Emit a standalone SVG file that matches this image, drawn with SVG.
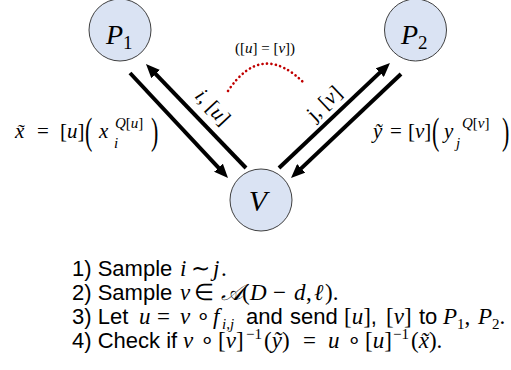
<svg xmlns="http://www.w3.org/2000/svg" width="511" height="370" viewBox="0 0 511 370">
<style>
.node{fill:#dae3f3;stroke:#404040;stroke-width:1}
.conn{stroke:#000;stroke-width:4;fill:none}
.t{font-family:"Liberation Sans",Arial,sans-serif;font-size:22px;fill:#000}
.s{font-family:"Liberation Serif","Times New Roman",serif;fill:#000}
.m{font-family:"Liberation Serif","Times New Roman",serif;font-style:italic;font-size:23px}
.r{font-family:"Liberation Serif","Times New Roman",serif;font-style:normal;font-size:23px}
.sb{font-family:"Liberation Serif","Times New Roman",serif;font-size:15px}
.it{font-style:italic}
</style>
<defs>
<marker id="ah" markerUnits="userSpaceOnUse" markerWidth="14" markerHeight="12" viewBox="0 0 14 12" refX="4" refY="6" orient="auto">
<path d="M0,0 L14,6 L0,12 z" fill="#000"/>
</marker>
</defs>

<g id="connectors">
<line class="conn" x1="130" y1="73" x2="221.2" y2="170.7" marker-end="url(#ah)"/>
<line class="conn" x1="246" y1="168" x2="152.9" y2="71.2" marker-end="url(#ah)"/>
<line class="conn" x1="279" y1="168" x2="382.7" y2="69.9" marker-end="url(#ah)"/>
<line class="conn" x1="401" y1="74" x2="298.3" y2="171.1" marker-end="url(#ah)"/>
<path d="M228,91 Q262,40 305,84" fill="none" stroke="#c00000" stroke-width="2.6" stroke-linecap="round" stroke-dasharray="0.1 4.4"/>
<text class="s" x="265" y="53" font-size="15" text-anchor="middle">([<tspan class="it">u</tspan>] = [<tspan class="it">v</tspan>])</text>
<text class="s" font-size="21" text-anchor="middle" transform="translate(213,107) rotate(47)" x="0" y="7"><tspan class="it">i</tspan>, [<tspan class="it">u</tspan>]</text>
<text class="s" font-size="21" text-anchor="middle" transform="translate(324,103) rotate(-43.4)" x="0" y="7">j, [<tspan class="it">v</tspan>]</text>
</g>

<g id="P1">
<circle class="node" cx="120" cy="30" r="31"/>
<text class="s" x="106" y="44" font-size="28"><tspan class="it">P</tspan><tspan font-size="19" dy="5">1</tspan></text>
</g>
<g id="P2">
<circle class="node" cx="415.5" cy="30" r="31"/>
<text class="s" x="401" y="44" font-size="28"><tspan class="it">P</tspan><tspan font-size="19" dy="5">2</tspan></text>
</g>
<g id="V">
<circle class="node" cx="261" cy="200" r="31"/>
<text class="s it" x="258" y="211" font-size="30" text-anchor="middle">V</text>
</g>

<g id="formula-left">
<text class="s" font-size="21" y="138"><tspan class="it" x="15">x̃</tspan><tspan x="37">=</tspan><tspan x="60">[</tspan><tspan class="it">u</tspan><tspan>]</tspan><tspan class="it" x="99">x</tspan></text>
<text class="s" font-size="22" transform="translate(85,144) scale(1,1.7)">(</text>
<text class="s" font-size="22" transform="translate(151,144) scale(1,1.7)">)</text>
<text class="s it" font-size="15" x="114" y="148">i</text>
<text class="s" font-size="15" x="115" y="128"><tspan class="it">Q</tspan>[<tspan class="it">u</tspan>]</text>
</g>

<g id="formula-right">
<text class="s" font-size="21" y="138"><tspan class="it" x="373">ỹ</tspan><tspan x="390">=</tspan><tspan x="408">[</tspan><tspan class="it">v</tspan><tspan>]</tspan><tspan class="it" x="444">y</tspan></text>
<text class="s" font-size="22" transform="translate(432,144) scale(1,1.7)">(</text>
<text class="s" font-size="22" transform="translate(502,144) scale(1,1.7)">)</text>
<text class="s it" font-size="15" x="456" y="148">j</text>
<text class="s" font-size="15" x="462" y="128"><tspan class="it">Q</tspan>[<tspan class="it">v</tspan>]</text>
</g>

<g id="steps">
<text class="t" y="276"><tspan x="72">1) Sample</tspan><tspan class="m" x="180">i</tspan><tspan class="r" x="191">∼</tspan><tspan class="m" x="213">j</tspan><tspan class="r" x="221">.</tspan></text>
<text class="t" y="300"><tspan x="72">2) Sample</tspan><tspan class="m" x="180">v</tspan><tspan class="r" x="194">∈</tspan><tspan class="m" x="221">𝒜</tspan><tspan class="r" x="242">(</tspan><tspan class="m" x="250">D</tspan><tspan class="r" x="273">−</tspan><tspan class="m" x="294">d</tspan><tspan class="r" x="306">,</tspan><tspan class="m" x="314">ℓ</tspan><tspan class="r" x="325">).</tspan></text>
<text class="t" y="324"><tspan x="72">3) Let</tspan><tspan class="m" x="139">u</tspan><tspan class="r" x="157">=</tspan><tspan class="m" x="180">v</tspan><tspan class="r" x="196">∘</tspan><tspan class="m" x="213">f</tspan><tspan class="sb it" x="222" y="329">i,j</tspan><tspan x="246" y="324">and</tspan><tspan x="290">send</tspan><tspan class="r" x="344">[</tspan><tspan class="m">u</tspan><tspan class="r">]</tspan>,<tspan class="r" x="386">[</tspan><tspan class="m">v</tspan><tspan class="r">]</tspan><tspan x="419">to</tspan><tspan class="m" x="443">P</tspan><tspan class="sb" y="329">1</tspan><tspan class="r" y="324">,</tspan><tspan class="m" x="478">P</tspan><tspan class="sb" y="329">2</tspan><tspan class="r" y="324">.</tspan></text>
<text class="t" y="348"><tspan x="72">4) Check if</tspan><tspan class="m" x="183">v</tspan><tspan class="r" x="200">∘</tspan><tspan class="r" x="218">[</tspan><tspan class="m">v</tspan><tspan class="r">]</tspan><tspan class="sb" x="246" y="339">−1</tspan><tspan class="r" x="264" y="348">(</tspan><tspan class="m">ỹ</tspan><tspan class="r">)</tspan><tspan class="r" x="303">=</tspan><tspan class="m" x="328">u</tspan><tspan class="r" x="347">∘</tspan><tspan class="r" x="365">[</tspan><tspan class="m">u</tspan><tspan class="r">]</tspan><tspan class="sb" x="393" y="339">−1</tspan><tspan class="r" x="411" y="348">(</tspan><tspan class="m">x̃</tspan><tspan class="r">).</tspan></text>
</g>
</svg>
